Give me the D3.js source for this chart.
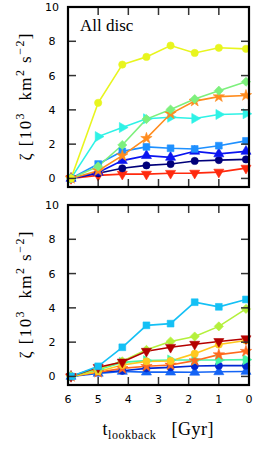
<!DOCTYPE html>
<html><head><meta charset="utf-8">
<script src="https://cdn.jsdelivr.net/npm/d3@7"></script>
<style>body{margin:0;background:#fff}</style>
</head><body>
<svg id="c" width="272" height="461"></svg>
<script>
// ---- data ----
const times = [5.9, 5.0, 4.2, 3.4, 2.6, 1.8, 1.0, 0.1];
const xTicks = [6, 5, 4, 3, 2, 1, 0];
const yTicks = [0, 2, 4, 6, 8, 10];

// top panel ("All disc")
const topRed     = [0, 0.18, 0.25, 0.25, 0.30, 0.31, 0.37, 0.60];
const topNavy    = [0, 0.30, 0.59, 0.76, 0.84, 1.02, 1.07, 1.11];
const topBlue    = [0, 0.35, 1.04, 1.33, 1.23, 1.58, 1.43, 1.58];
const topDodger  = [0, 0.84, 1.58, 1.84, 1.76, 1.72, 1.91, 2.19];
const topCyan    = [0, 2.44, 2.97, 3.48, 3.57, 3.50, 3.73, 3.77];
const topGreen   = [0, 0.70, 1.95, 3.46, 4.02, 4.63, 5.12, 5.64];
const topOrange  = [0, 0.45, 1.33, 2.34, 3.77, 4.51, 4.77, 4.84];
const topYellow  = [0, 4.41, 6.64, 7.09, 7.75, 7.32, 7.62, 7.56];

// bottom panel
const botBlueTri  = [0, 0.18, 0.29, 0.25, 0.25, 0.24, 0.27, 0.29];
const botBlueCirc = [0, 0.24, 0.33, 0.47, 0.53, 0.61, 0.63, 0.63];
const botAqua     = [0, 0.39, 0.82, 0.92, 0.96, 0.96, 0.96, 0.98];
const botOrange   = [0, 0.24, 0.47, 0.59, 0.67, 0.92, 1.27, 1.47];
const botGold     = [0, 0.29, 0.67, 0.88, 0.90, 1.33, 1.86, 2.10];
const botDarkRed  = [0, 0.53, 0.84, 1.47, 1.70, 1.88, 2.04, 2.20];
const botLime     = [0, 0.43, 0.88, 1.55, 2.04, 2.33, 2.92, 3.94];
const botSky      = [0, 0.59, 1.70, 2.98, 3.08, 4.33, 4.06, 4.49];

const topSeries = [
  {v: topRed,    c: "#ff2a0e", m: "down"},
  {v: topNavy,   c: "#00007a", m: "circle"},
  {v: topBlue,   c: "#0a14f0", m: "up"},
  {v: topDodger, c: "#1e90ff", m: "square"},
  {v: topCyan,   c: "#2ef2e6", m: "right"},
  {v: topOrange, c: "#ff8c1e", m: "star"},
  {v: topGreen,  c: "#7df07d", m: "diamond"},
  {v: topYellow, c: "#e8f51e", m: "circle"}
];
const botSeries = [
  {v: botBlueTri,  c: "#1464f5", m: "up"},
  {v: botBlueCirc, c: "#0028d2", m: "circle"},
  {v: botAqua,     c: "#46f5a5", m: "right"},
  {v: botOrange,   c: "#ff6a1e", m: "star"},
  {v: botGold,     c: "#ffc81e", m: "circle"},
  {v: botLime,     c: "#b4f03c", m: "diamond"},
  {v: botDarkRed,  c: "#b40000", m: "down"},
  {v: botSky,      c: "#14c0f5", m: "square"}
];

// ---- drawing ----
const svg = d3.select("#c");
svg.append("rect").attr("width",272).attr("height",461).attr("fill","#fff");
const x = d3.scaleLinear().domain([6, 0]).range([68, 249]);

const sym = {
  circle:  {t: d3.symbolCircle,   s: 42, r: 0},
  square:  {t: d3.symbolSquare,   s: 46, r: 0},
  up:      {t: d3.symbolTriangle, s: 44, r: 0},
  down:    {t: d3.symbolTriangle, s: 44, r: 180},
  right:   {t: d3.symbolTriangle, s: 44, r: 90},
  diamond: {t: d3.symbolSquare,   s: 42, r: 45},
  star:    {t: d3.symbolStar,     s: 40, r: 0}
};

const serif = "Liberation Serif, DejaVu Serif, serif";

function panel(top, bottom, series, label) {
  const y = d3.scaleLinear().domain([-0.5, 10]).range([bottom, top]);
  const g = svg.append("g");
  const line = d3.line().x((d,i)=>x(times[i])).y(d=>y(d));
  series.forEach(s => {
    g.append("path").datum(s.v).attr("d", line)
      .attr("fill","none").attr("stroke", s.c).attr("stroke-width",1.6);
  });
  series.forEach(s => {
    const S = sym[s.m];
    g.selectAll(null).data(s.v).enter().append("path")
      .attr("d", d3.symbol().type(S.t).size(S.s)())
      .attr("transform", (d,i)=>`translate(${x(times[i])},${y(d)}) rotate(${S.r})`)
      .attr("fill", s.c).attr("stroke", s.c).attr("stroke-width",0.6);
  });
  const tk = g.append("g").attr("stroke","#333").attr("stroke-width",1.5);
  yTicks.forEach(t => {
    tk.append("line").attr("x1",x(6)).attr("x2",x(6)+8).attr("y1",y(t)).attr("y2",y(t));
    tk.append("line").attr("x1",x(0)).attr("x2",x(0)-8).attr("y1",y(t)).attr("y2",y(t));
  });
  xTicks.forEach(t => {
    tk.append("line").attr("x1",x(t)).attr("x2",x(t)).attr("y1",top).attr("y2",top+8);
    tk.append("line").attr("x1",x(t)).attr("x2",x(t)).attr("y1",bottom).attr("y2",bottom-8);
  });
  g.append("rect").attr("x",x(6)).attr("y",top).attr("width",x(0)-x(6)).attr("height",bottom-top)
    .attr("fill","none").attr("stroke","#000").attr("stroke-width",2.2);
  g.selectAll(null).data(yTicks).enter().append("text")
    .attr("x",52).attr("y",d=>y(d)+4).attr("text-anchor","middle")
    .attr("font-family","DejaVu Sans").attr("font-size",11).attr("fill","#000")
    .text(d=>d);
  const cy = (top+bottom)/2;
  const yl = g.append("text").attr("transform",`translate(31,${cy}) rotate(-90)`)
    .attr("text-anchor","middle").attr("font-family",serif)
    .attr("font-size",17).attr("fill","#000");
  yl.append("tspan").text("ζ [10");
  yl.append("tspan").attr("dy",-7).attr("font-size",12).text("3");
  yl.append("tspan").attr("dy",7).text("\u00a0\u00a0km");
  yl.append("tspan").attr("dy",-7).attr("font-size",12).text("2");
  yl.append("tspan").attr("dy",7).text("\u00a0s");
  yl.append("tspan").attr("dy",-7).attr("font-size",12).text("\u22122");
  yl.append("tspan").attr("dy",7).text("]");
  yl.attr("textLength",127).attr("lengthAdjust","spacing");
  if (label) {
    g.append("text").attr("x",80).attr("y",31)
      .attr("font-family",serif).attr("font-size",17)
      .attr("fill","#000").text(label);
  }
  return y;
}

panel(7, 187, topSeries, "All disc");
panel(205, 385, botSeries, null);

svg.selectAll(null).data(xTicks).enter().append("text")
  .attr("x",d=>x(d)).attr("y",403).attr("text-anchor","middle")
  .attr("font-family","DejaVu Sans").attr("font-size",11).attr("fill","#000").text(d=>d);

const xl = svg.append("text").attr("x",158).attr("y",435).attr("text-anchor","middle")
  .attr("font-family",serif).attr("font-size",18).attr("fill","#000");
xl.append("tspan").text("t");
xl.append("tspan").attr("dy",4).attr("font-size",12).text("lookback");
xl.append("tspan").attr("dy",-4).text("\u00a0\u00a0\u00a0[Gyr]");
xl.attr("textLength",111).attr("lengthAdjust","spacing");
</script>
</body></html>
